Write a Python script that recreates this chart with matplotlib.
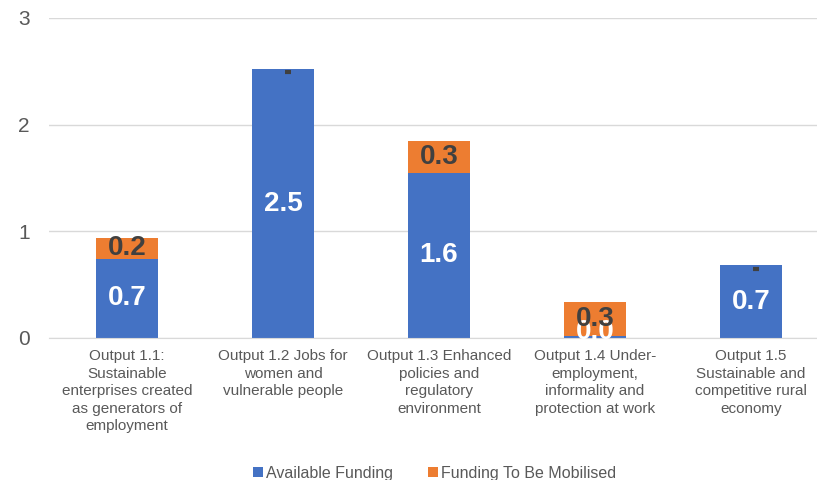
import matplotlib
matplotlib.use("Agg")
import matplotlib.pyplot as plt
import numpy as np

plt.rcParams["font.family"] = ["Liberation Sans", "DejaVu Sans"]

categories = [
    "Output 1.1:\nSustainable\nenterprises created\nas generators of\nemployment",
    "Output 1.2 Jobs for\nwomen and\nvulnerable people",
    "Output 1.3 Enhanced\npolicies and\nregulatory\nenvironment",
    "Output 1.4 Under-\nemployment,\ninformality and\nprotection at work",
    "Output 1.5\nSustainable and\ncompetitive rural\neconomy",
]
available = [0.74, 2.52, 1.55, 0.02, 0.68]
to_mobilise = [0.20, 0.0, 0.30, 0.32, 0.0]
series_names = ["Available Funding", "Funding To Be Mobilised"]

BLUE = "#4472C4"
ORANGE = "#ED7D31"
TEXT = "#595959"
LABEL = "#404040"

fig = plt.figure(figsize=(8.17, 4.8), dpi=100)
ax = fig.add_axes([0.06, 0.296, 0.9547, 0.6667])

x = np.arange(len(categories))
w = 0.4
b1 = ax.bar(x, available, w, color=BLUE, zorder=2, label=series_names[0])
b2 = ax.bar(x, to_mobilise, w, bottom=available, color=ORANGE, zorder=3,
            label=series_names[1])

for xi, a, m in zip(x, available, to_mobilise):
    if a > 0.2:
        ax.text(xi, a / 2, f"{a:.1f}", ha="center", va="center",
                color="white", fontsize=20, fontweight="bold", zorder=3.5)
    else:
        # tiny segment: label sits low, mostly covered by the orange label
        ax.text(xi, 0.06, f"{a:.1f}", ha="center", va="center",
                color="white", fontsize=20, fontweight="bold", zorder=3.5)
    if m > 0:
        ax.text(xi, a + m / 2, f"{m:.1f}", ha="center", va="center",
                color=LABEL, fontsize=20, fontweight="bold", zorder=4)
    else:
        # zero-height segment: its label is hidden, only a tiny dash shows
        ax.plot([xi + 0.01, xi + 0.05], [a - 0.03, a - 0.03], color=LABEL, lw=3,
                solid_capstyle="butt", zorder=4)

ax.set_xlim(-0.5, len(categories) - 0.5)
ax.set_ylim(0, 3)
ax.set_yticks([0, 1, 2, 3])
ax.yaxis.grid(True, color="#D9D9D9", lw=1, zorder=0)
ax.set_axisbelow(True)
for s in ["top", "right", "left"]:
    ax.spines[s].set_visible(False)
ax.spines["bottom"].set_color("#D9D9D9")
ax.tick_params(axis="y", length=0, labelsize=15, labelcolor=TEXT, pad=14)
ax.tick_params(axis="x", length=0, labelsize=11, labelcolor=TEXT, pad=8)
ax.set_xticks(x)
ax.set_xticklabels(categories, linespacing=1.32)

leg = fig.legend(handles=[b1, b2], labels=series_names, loc="center",
                 bbox_to_anchor=(0.532, 0.014), ncol=2, frameon=False,
                 fontsize=11.5, handlelength=0.6, handleheight=0.6,
                 handletextpad=0.2, columnspacing=2.2)
for t in leg.get_texts():
    t.set_color(TEXT)

fig.savefig("out.png", dpi=100)
